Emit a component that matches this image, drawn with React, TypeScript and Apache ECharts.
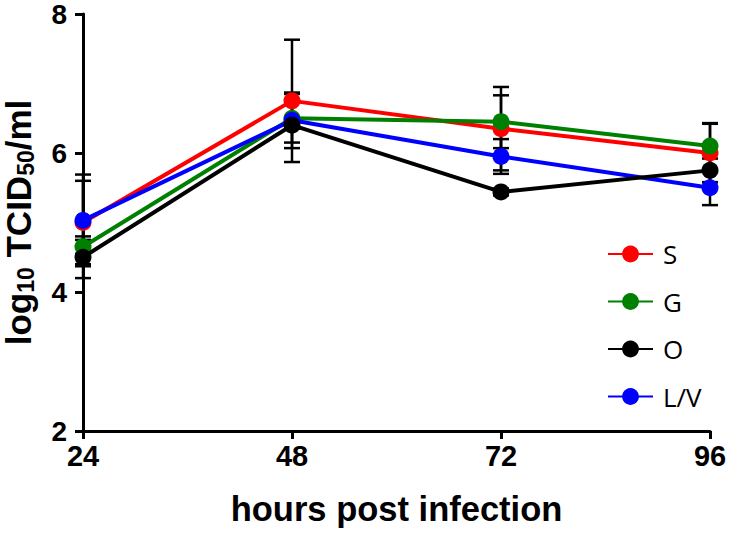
import React, { useEffect, useRef } from "react";
import * as echarts from "echarts";

const hours = [24, 48, 72, 96];
const xTicks = [24, 48, 72, 96];
const yTicks = [2, 4, 6, 8];

const seriesNames = ["S", "G", "O", "L/V"];
const seriesColors = ["#ff0000", "#008000", "#000000", "#0000ff"];
const seriesZ = [2, 3, 5, 4];

const sMean = [5.0, 6.75, 6.35, 6.0];
const sErr = [0.6, 0.88, 0.6, 0.42];
const gMean = [4.65, 6.5, 6.45, 6.1];
const gErr = [0.1, 0.35, 0.38, 0.33];
const oMean = [4.5, 6.4, 5.44, 5.75];
const oErr = [0.3, 0.05, 0.05, 0.17];
const lvMean = [5.03, 6.47, 5.95, 5.5];
const lvErr = [0.66, 0.4, 0.25, 0.25];

const means = [sMean, gMean, oMean, lvMean];
const errs = [sErr, gErr, oErr, lvErr];

const FONT = "'Liberation Sans', Arial, sans-serif";

export default function App() {
  const ref = useRef<HTMLDivElement>(null);
  useEffect(() => {
    if (!ref.current) return;
    const chart = echarts.init(ref.current, undefined, { renderer: "svg" });

    const lineSeries = seriesNames.map((name, i) => ({
      name,
      type: "line",
      data: hours.map((h, j) => [h, means[i][j]]),
      symbol: "circle",
      symbolSize: 17,
      z: seriesZ[i],
      itemStyle: { color: seriesColors[i] },
      lineStyle: { color: seriesColors[i], width: 4 },
      emphasis: { disabled: true },
    }));

    const errSeries = seriesNames.map((name, i) => ({
      name: name + " error",
      type: "custom",
      z: 1,
      data: hours.map((h, j) => [h, means[i][j] - errs[i][j], means[i][j] + errs[i][j]]),
      renderItem: (params: any, api: any) => {
        const x = api.value(0);
        const lo = api.coord([x, api.value(1)]);
        const hi = api.coord([x, api.value(2)]);
        const w = 8;
        const style = { stroke: "#000", lineWidth: 2.5 };
        return {
          type: "group",
          children: [
            { type: "line", shape: { x1: hi[0], y1: hi[1], x2: lo[0], y2: lo[1] }, style },
            { type: "line", shape: { x1: hi[0] - w, y1: hi[1], x2: hi[0] + w, y2: hi[1] }, style },
            { type: "line", shape: { x1: lo[0] - w, y1: lo[1], x2: lo[0] + w, y2: lo[1] }, style },
          ],
        };
      },
    }));

    chart.setOption({
      animation: false,
      backgroundColor: "#ffffff",
      grid: {
        left: 83,
        right: 41,
        top: 14,
        bottom: 112,
        containLabel: false,
        outerBoundsMode: "none",
      },
      legend: {
        data: seriesNames,
        orient: "vertical",
        left: 602,
        top: 234,
        itemWidth: 45,
        itemHeight: 21,
        itemGap: 17.5,
        textStyle: {
          fontFamily: "'Open Sans', 'Noto Sans', sans-serif",
          fontSize: 26,
          color: "#000",
          lineHeight: 30,
          padding: [0, 0, 0, 5],
        },
      },
      xAxis: {
        type: "value",
        min: 24,
        max: 96,
        interval: 24,
        name: "hours post infection",
        nameLocation: "middle",
        nameGap: 60,
        nameTextStyle: { fontFamily: FONT, fontWeight: "bold", fontSize: 34.5, color: "#000" },
        axisLine: { lineStyle: { color: "#000", width: 3 } },
        axisTick: { show: true, length: 8, lineStyle: { color: "#000", width: 3 } },
        axisLabel: {
          fontFamily: FONT,
          fontWeight: "bold",
          fontSize: 29,
          color: "#000",
          margin: 10,
          formatter: (v: number) => (xTicks.includes(v) ? String(v) : ""),
        },
        splitLine: { show: false },
      },
      yAxis: {
        type: "value",
        min: 2,
        max: 8,
        interval: 2,
        name: "{a|log}{s|10}{a| TCID}{s|50}{a|/ml}",
        nameLocation: "middle",
        nameRotate: 90,
        nameGap: 46,
        nameTextStyle: {
          color: "#000",
          rich: {
            a: { fontFamily: FONT, fontWeight: "bold", fontSize: 35, lineHeight: 38, color: "#000" },
            s: {
              fontFamily: FONT,
              fontWeight: "bold",
              fontSize: 23,
              lineHeight: 38,
              verticalAlign: "bottom",
              color: "#000",
            },
          },
        },
        axisLine: { show: true, lineStyle: { color: "#000", width: 3 } },
        axisTick: { show: true, length: 8, lineStyle: { color: "#000", width: 3 } },
        axisLabel: {
          fontFamily: FONT,
          fontWeight: "bold",
          fontSize: 28,
          lineHeight: 24,
          color: "#000",
          margin: 16,
          formatter: (v: number) => (yTicks.includes(v) ? String(v) : ""),
        },
        splitLine: { show: false },
      },
      series: [...errSeries, ...lineSeries],
    });

    return () => chart.dispose();
  }, []);

  return (
    <div
      ref={ref}
      style={{ position: "fixed", left: 0, top: 0, width: 751, height: 543, background: "#fff" }}
    />
  );
}
